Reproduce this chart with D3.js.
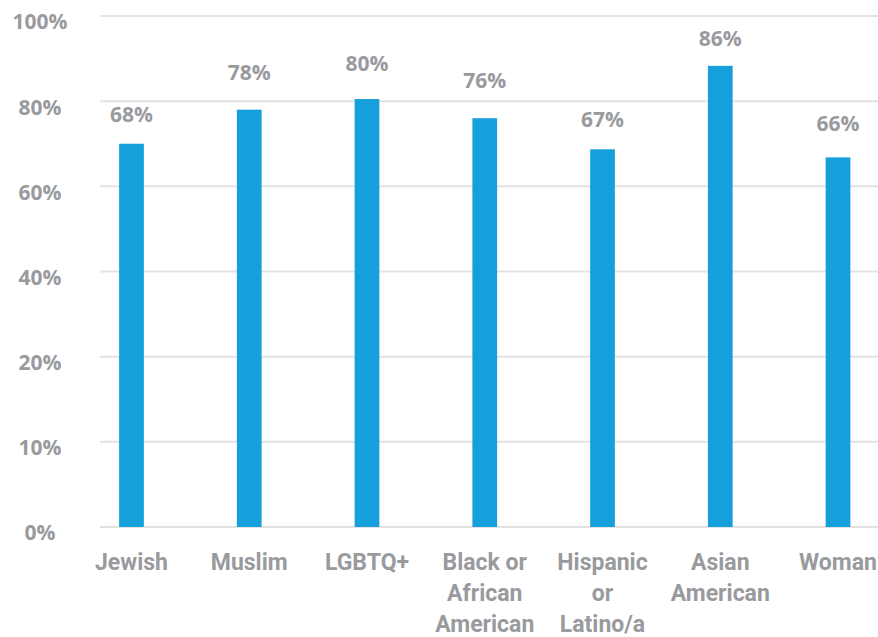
<!DOCTYPE html>
<html>
<head>
<meta charset="utf-8">
<script src="https://cdn.jsdelivr.net/npm/d3@7"></script>
<style>
  body { margin: 0; background: #fff; }
  svg { display: block; }
</style>
</head>
<body>
<div id="chart"></div>
<script>
// categories, bar heights and the printed labels
const categories = ["Jewish", "Muslim", "LGBTQ+", "Black or African American", "Hispanic or Latino/a", "Asian American", "Woman"];
const barValues = [70, 78, 80.5, 76, 68.7, 88.3, 66.8];
const labelValues = [68, 78, 80, 76, 67, 86, 66];
const yTicks = [0, 10, 20, 40, 60, 80, 100];

const width = 878, height = 637;
const plotTop = 16, plotBottom = 527;
const gray = "#999a9e";

const svg = d3.select("#chart")
  .append("svg")
    .attr("width", width)
    .attr("height", height);

// x bands, last one runs past the right edge like the original
const x = d3.scaleBand()
  .domain(categories)
  .range([72.6, 896.9])
  .paddingInner(0.79)
  .paddingOuter(0.395);

// ticks are spaced evenly even though the values are not
const step = (plotBottom - plotTop) / (yTicks.length - 1);
const y = d3.scaleLinear()
  .domain(yTicks)
  .range(yTicks.map((t, i) => plotBottom - i * step));

// gridlines
svg.append("g")
  .selectAll("line")
  .data(yTicks)
  .join("line")
    .attr("x1", 100)
    .attr("x2", width)
    .attr("y1", d => y(d))
    .attr("y2", d => y(d))
    .attr("stroke", "#e3e3e3")
    .attr("stroke-width", 2);

// y tick labels
svg.append("g")
  .selectAll("text")
  .data(yTicks)
  .join("text")
    .attr("x", 40)
    .attr("y", d => y(d) + 6)
    .attr("dy", "0.35em")
    .attr("text-anchor", "middle")
    .attr("fill", gray)
    .style("font", "bold 21px 'Open Sans', sans-serif")
    .text(d => d + "%");

// bars
svg.append("g")
  .selectAll("rect")
  .data(categories)
  .join("rect")
    .attr("x", d => x(d))
    .attr("width", x.bandwidth())
    .attr("y", (d, i) => y(barValues[i]))
    .attr("height", (d, i) => y(0) - y(barValues[i]))
    .attr("fill", "#16a0db");

// value labels
svg.append("g")
  .selectAll("text")
  .data(categories)
  .join("text")
    .attr("x", d => x(d) + x.bandwidth() / 2)
    .attr("y", (d, i) => y(labelValues[i]) - 30)
    .attr("text-anchor", "middle")
    .attr("fill", gray)
    .style("font", "bold 21px 'Open Sans', sans-serif")
    .text((d, i) => labelValues[i] + "%");

// category labels, wrapped to the band width
const catText = svg.append("g")
  .selectAll("text")
  .data(categories)
  .join("text")
    .attr("x", d => x(d) + x.bandwidth() / 2)
    .attr("y", 570)
    .attr("text-anchor", "middle")
    .attr("fill", gray)
    .style("font", "bold 23px Roboto, sans-serif");

catText.each(function (d) {
  const t = d3.select(this);
  const words = d.split(" ");
  const cx = x(d) + x.bandwidth() / 2;
  let line = [];
  let tspan = t.append("tspan").attr("x", cx).attr("dy", 0);
  words.forEach(w => {
    line.push(w);
    tspan.text(line.join(" "));
    if (tspan.node().getComputedTextLength() > 100 && line.length > 1) {
      line.pop();
      tspan.text(line.join(" "));
      line = [w];
      tspan = t.append("tspan").attr("x", cx).attr("dy", 31).text(w);
    }
  });
});
</script>
</body>
</html>
